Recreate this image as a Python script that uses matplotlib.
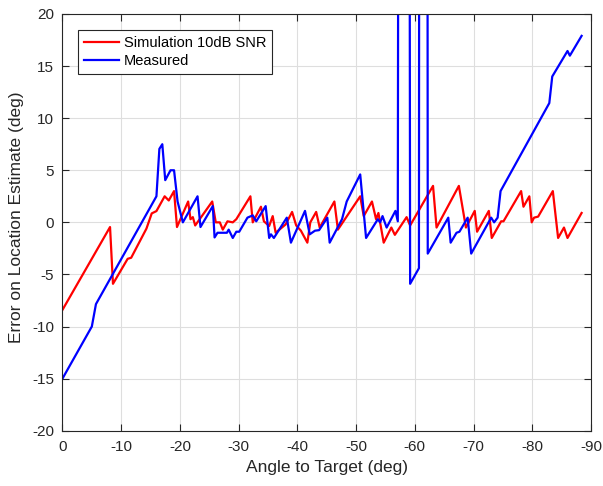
import matplotlib
matplotlib.use('Agg')
import matplotlib.pyplot as plt

plt.rcParams['font.family'] = ['Liberation Sans', 'DejaVu Sans']
plt.rcParams['axes.unicode_minus'] = False

# simulation, 10 dB SNR
sim_angle = [0, -8.1, -8.6, -11.1, -11.7, -14.3, -15.2, -16.0, -17.4, -18.1,
             -19.0, -19.5, -21.4, -21.8, -22.2, -22.6, -25.5, -26.1, -26.8,
             -27.3, -28.1, -29.0, -29.6, -32.0, -32.4, -33.8, -34.3, -35.2,
             -35.8, -36.3, -38.0, -39.1, -39.8, -40.6, -41.7, -42.2, -43.2,
             -43.8, -46.3, -46.9, -50.7, -51.3, -52.7, -53.4, -53.8, -54.7,
             -56.0, -56.6, -58.6, -59.2, -63.1, -63.7, -67.5, -68.7, -70.2,
             -70.6, -72.6, -73.1, -74.7, -75.1, -78.1, -78.5, -79.5, -79.9,
             -80.3, -81.0, -83.5, -84.4, -85.4, -86.0, -88.4]
sim_err = [-8.4, -0.45, -5.9, -3.5, -3.4, -0.6, 0.86, 1.08, 2.5, 2.1,
           3.0, -0.45, 2.0, 0.3, 0.5, -0.3, 2.0, 0.0, 0.0,
           -0.7, 0.1, 0.0, 0.3, 2.5, 0.0, 1.5, 0.1, -0.35,
           0.6, -1.0, -0.2, 1.0, -0.3, -0.8, -1.95, 0.0, 1.0,
           -0.5, 2.0, -0.7, 2.5, 0.6, 2.0, 0.3, 0.9, -1.95,
           -0.5, -1.2, 0.5, -0.3, 3.5, -0.5, 3.5, -0.5, 1.1,
           -0.9, 1.1, -1.5, 0.1, 0.1, 3.0, 1.5, 2.5, 0.0,
           0.45, 0.55, 3.0, -1.5, -0.5, -1.5, 0.9]

# measured
meas_angle = [0, -5.0, -5.7, -16.0, -16.5, -17.0, -17.5, -18.4, -19.0, -19.6,
              -20.5, -23.0, -23.5, -25.6, -25.9, -26.4, -28.0, -28.3, -29.0,
              -29.6, -30.1, -31.5, -32.4, -33.0, -34.6, -35.2, -35.5, -36.0,
              -38.2, -38.9, -41.3, -42.1, -43.0, -43.7, -45.1, -45.5, -47.6,
              -48.4, -50.7, -51.7, -53.7, -54.1, -54.5, -55.2, -56.7, -57.1,
              -57.3, -59.0, -59.2, -60.7, -60.8, -62.1, -62.2, -65.7, -66.1,
              -67.1, -67.6, -69.0, -69.6, -73.0, -73.5, -74.1, -74.6, -82.9,
              -83.4, -86.0, -86.4, -88.4]
meas_err = [-15.0, -10.0, -7.85, 2.5, 7.05, 7.5, 4.05, 5.0, 5.0, 2.0,
            0.0, 2.5, -0.45, 1.56, -1.45, -1.0, -1.0, -0.7, -1.5,
            -0.9, -0.9, 0.45, 0.67, 0.1, 1.56, -1.5, -1.15, -1.5,
            0.45, -1.95, 1.1, -1.15, -0.8, -0.75, 0.45, -1.95, 0.3,
            2.0, 4.6, -1.5, 0.3, 0.0, 0.6, -0.5, 1.1, 0.1,
            80, 80, -5.9, -4.4, 80, 80, -3.0, 0.45, -1.95,
            -1.0, -0.9, 0.45, -3.0, 0.45, 0.0, 0.45, 3.0, 11.45,
            14.0, 16.45, 16.0, 17.9]

x_ticks = [0, -10, -20, -30, -40, -50, -60, -70, -80, -90]
y_ticks = [-20, -15, -10, -5, 0, 5, 10, 15, 20]

fig = plt.figure(figsize=(6.03, 4.86), dpi=100)
ax = fig.add_axes([0.1036, 0.1138, 0.8765, 0.8574])

ax.plot(sim_angle, sim_err, color='#ff0000', lw=1.6, label='Simulation 10dB SNR')
ax.plot(meas_angle, meas_err, color='#0000ff', lw=1.6, label='Measured')

ax.set_xlim(0, -90)
ax.set_ylim(-20, 20)
ax.set_xticks(x_ticks)
ax.set_yticks(y_ticks)
ax.grid(True, color='#dedede', lw=0.8)
ax.set_axisbelow(True)
for s in ax.spines.values():
    s.set_color('#262626')
    s.set_linewidth(0.8)
ax.tick_params(direction='in', top=True, right=True, length=5,
               width=0.8, color='#262626', labelsize=11, labelcolor='#262626')
ax.tick_params(axis='x', pad=7)
ax.tick_params(axis='y', pad=6)
ax.set_xlabel('Angle to Target (deg)', fontsize=12.5, color='#262626', labelpad=4)
ax.set_ylabel('Error on Location Estimate (deg)', fontsize=12.5, color='#262626', labelpad=6)
ax.yaxis.label.set_y(0.513)

leg = ax.legend(loc='upper left', bbox_to_anchor=(0.029, 0.962), fontsize=10.5,
                fancybox=False, edgecolor='#262626', framealpha=1,
                borderaxespad=0, handlelength=2.4, handletextpad=0.35,
                borderpad=0.4, labelspacing=0.3)
leg.get_frame().set_linewidth(0.8)

fig.savefig('out.png', dpi=100)
